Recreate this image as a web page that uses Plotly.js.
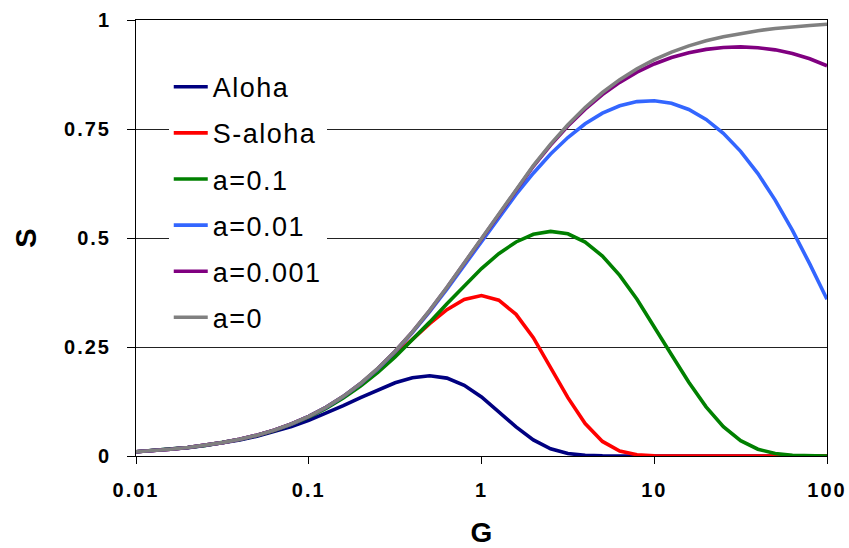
<!DOCTYPE html>
<html>
<head>
<meta charset="utf-8">
<script src="https://cdn.plot.ly/plotly-3.0.1.min.js"></script>
<style>
  html, body { margin: 0; padding: 0; background: #fff; }
  #chart { width: 849px; height: 548px; }
  .xtick text, .ytick text { letter-spacing: 2px !important; }
  .legendtext { letter-spacing: 1.5px !important; }
</style>
</head>
<body>
<div id="chart"></div>
<script>
// Offered load G (10 points per decade)
const G = [0.01,0.012589,0.015849,0.019953,0.025119,0.031623,0.039811,0.050119,0.063096,0.079433,
  0.1,0.12589,0.15849,0.19953,0.25119,0.31623,0.39811,0.50119,0.63096,0.79433,
  1,1.2589,1.5849,1.9953,2.5119,3.1623,3.9811,5.0119,6.3096,7.9433,
  10,12.589,15.849,19.953,25.119,31.623,39.811,50.119,63.096,79.433,100];

// Throughput S
const aloha = [0.0098,0.01228,0.01535,0.01917,0.02389,0.02969,0.03676,0.04534,0.05562,0.06777,
  0.08187,0.09787,0.11544,0.13387,0.15199,0.16801,0.17956,0.18394,0.17863,0.1622,
  0.13534,0.10151,0.06659,0.03689,0.01653,0.00567,0.00139,0.00022,0.00002,0,
  0,0,0,0,0,0,0,0,0,0,0];
const saloha = [0.0099,0.01243,0.0156,0.01956,0.0245,0.03064,0.03826,0.04767,0.05924,0.07337,
  0.09048,0.111,0.13526,0.16344,0.19539,0.2305,0.26737,0.30363,0.33572,0.35895,
  0.36788,0.35748,0.32486,0.27131,0.20375,0.13386,0.07431,0.03337,0.01148,0.00282,
  0.00045,0.00004,0,0,0,0,0,0,0,0,0];
const a_01 = [0.00988,0.0124,0.01555,0.01949,0.02438,0.03046,0.03799,0.04726,0.05863,0.07247,
  0.08919,0.10919,0.13283,0.16036,0.19188,0.22723,0.26591,0.30704,0.34928,0.39091,
  0.42988,0.46397,0.49091,0.5086,0.51526,0.50954,0.49068,0.45864,0.41429,0.35953,
  0.29745,0.23227,0.16899,0.11268,0.06741,0.03524,0.01555,0.00555,0.00152,0.0003,0.00004];
const a_001 = [0.0099,0.01243,0.0156,0.01956,0.02449,0.03064,0.03826,0.04768,0.05928,0.07348,
  0.09074,0.11155,0.1364,0.16573,0.19986,0.23892,0.28281,0.33108,0.38294,0.43724,
  0.49255,0.54727,0.59979,0.64862,0.6925,0.73047,0.76184,0.78619,0.80326,0.81286,
  0.81481,0.80888,0.79474,0.77198,0.74015,0.69881,0.64771,0.58699,0.51737,0.44057,0.35937];
const a_0001 = [0.0099,0.01243,0.0156,0.01956,0.0245,0.03065,0.03828,0.04772,0.05934,0.07358,
  0.09089,0.11179,0.13677,0.16628,0.20067,0.24012,0.28455,0.33358,0.38647,0.44214,
  0.49925,0.5563,0.61179,0.66437,0.71295,0.75677,0.79543,0.8288,0.85702,0.88037,
  0.89922,0.91397,0.92498,0.93256,0.93695,0.93825,0.93649,0.93157,0.92327,0.91122,0.89495];
const a_0 = [0.0099,0.01243,0.0156,0.01956,0.0245,0.03065,0.03829,0.04773,0.05935,0.07359,
  0.09091,0.11182,0.13681,0.16634,0.20076,0.24025,0.28475,0.33386,0.38687,0.44269,
  0.5,0.55731,0.61313,0.66614,0.71525,0.75975,0.79924,0.83366,0.86319,0.88818,
  0.90909,0.92641,0.94065,0.95227,0.96171,0.96935,0.9755,0.98044,0.9844,0.98757,0.9901];

const seriesNames = ["Aloha", "S-aloha", "a=0.1", "a=0.01", "a=0.001", "a=0"];
const seriesValues = [aloha, saloha, a_01, a_001, a_0001, a_0];
const seriesColors = ["#000080", "#ff0000", "#008000", "#3366ff", "#800080", "#808080"];

const xTickVals = [0.01, 0.1, 1, 10, 100];
const xTickText = ["0.01", "0.1", "1", "10", "100"];
const yTickVals = [0, 0.25, 0.5, 0.75, 1];
const yTickText = ["0", "0.25", "0.5", "0.75", "1"];

const FONT = "Arial, 'Liberation Sans', sans-serif";

const traces = seriesNames.map((n, i) => ({
  type: "scatter",
  mode: "lines",
  name: n,
  legendgroup: "g" + i,
  x: G,
  y: seriesValues[i],
  line: { color: seriesColors[i], width: 3.6 },
  hoverinfo: "x+y+name"
}));

const layout = {
  width: 849,
  height: 548,
  margin: { l: 136, r: 22, t: 20, b: 92, pad: 0 },
  paper_bgcolor: "#ffffff",
  plot_bgcolor: "#ffffff",
  showlegend: true,
  legend: {
    x: 0.0474, xanchor: "left",
    y: 0.902, yanchor: "top",
    bgcolor: "#ffffff",
    borderwidth: 0,
    font: { family: FONT, size: 27, color: "#000" },
    tracegroupgap: 8,
    itemwidth: 34
  },
  xaxis: {
    type: "log",
    range: [-2, 2],
    tickvals: xTickVals,
    ticktext: xTickText,
    ticks: "outside",
    ticklen: 7,
    tickcolor: "#000",
    tickwidth: 1,
    showgrid: false,
    zeroline: false,
    showline: true,
    linecolor: "#000",
    linewidth: 1,
    mirror: true,
    ticklabelstandoff: 9,
    ticklabeloverflow: "allow",
    tickfont: { family: FONT, size: 20, color: "#000", weight: "bold" },
    title: { text: "G", font: { family: FONT, size: 28, color: "#000", weight: "bold" }, standoff: 34 }
  },
  yaxis: {
    range: [0, 1],
    tickvals: yTickVals,
    ticktext: yTickText,
    ticks: "outside",
    ticklen: 8,
    tickcolor: "#000",
    tickwidth: 1,
    showgrid: true,
    gridcolor: "#222",
    gridwidth: 1,
    zeroline: false,
    showline: true,
    linecolor: "#000",
    linewidth: 1,
    mirror: true,
    ticklabelstandoff: 12,
    ticklabeloverflow: "allow",
    tickfont: { family: FONT, size: 20, color: "#000", weight: "bold" },
    title: { text: "S", font: { family: FONT, size: 29, color: "#000", weight: "bold" }, standoff: 18 }
  }
};

Plotly.newPlot("chart", traces, layout, { displayModeBar: false });
</script>
</body>
</html>
